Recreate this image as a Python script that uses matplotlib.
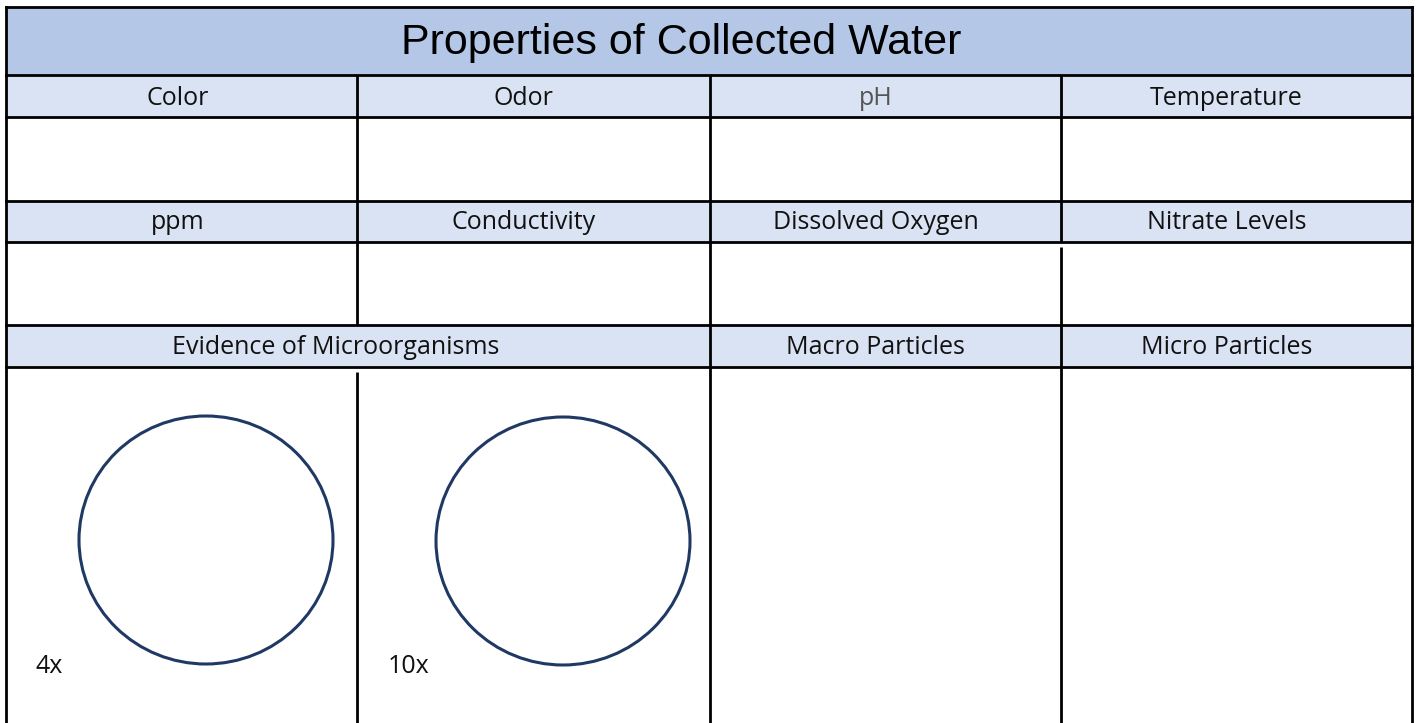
import matplotlib
matplotlib.use("Agg")
import matplotlib.pyplot as plt
from matplotlib.patches import Rectangle, Ellipse

# ---- content ----
title = "Properties of Collected Water"
row1_headers = ["Color", "Odor", "pH", "Temperature"]
row2_headers = ["ppm", "Conductivity", "Dissolved Oxygen", "Nitrate Levels"]
row3_headers = ["Evidence of Microorganisms", "Macro Particles", "Micro Particles"]
row3_spans = [(0, 2), (2, 3), (3, 4)]
magnifications = ["4x", "10x"]

# ---- layout (pixel grid) ----
W, H = 1416, 723
col_x = [6, 357, 710, 1061, 1412]
title_y = (7, 75)
hdr_rows = [(75, 117), (201, 242), (325, 367)]
body_rows = [(117, 201), (242, 325), (367, 723)]
hdr_baselines = [105, 229, 354]
col_shift = [-4, -10, -10, -10]   # text sits slightly left of cell centre

title_fill = "#B4C7E7"
hdr_fill = "#DAE3F3"
line_c = "black"
lw = 2.0
circle_c = "#1F3864"

fig = plt.figure(figsize=(W / 100, H / 100), dpi=100)
ax = fig.add_axes([0, 0, 1, 1])
ax.set_xlim(0, W)
ax.set_ylim(H, 0)
ax.axis("off")

# fills
ax.add_patch(Rectangle((col_x[0], title_y[0]), col_x[-1] - col_x[0],
                       title_y[1] - title_y[0], facecolor=title_fill, edgecolor="none"))
for (y0, y1) in hdr_rows:
    ax.add_patch(Rectangle((col_x[0], y0), col_x[-1] - col_x[0], y1 - y0,
                           facecolor=hdr_fill, edgecolor="none"))

# horizontal lines
for y in [title_y[0], title_y[1]] + [r[1] for r in hdr_rows] + [r[0] for r in hdr_rows[1:]]:
    ax.plot([col_x[0], col_x[-1]], [y, y], color=line_c, lw=lw, solid_capstyle="projecting")

# outer vertical lines
for x in (col_x[0], col_x[-1]):
    ax.plot([x, x], [title_y[0], H], color=line_c, lw=lw, solid_capstyle="projecting")

# inner vertical lines for first two header/body pairs
for (y0, y1) in hdr_rows[:2] + body_rows[:2]:
    for x in col_x[1:-1]:
        ys = y0
        if (y0, y1) == body_rows[1] and x == col_x[3]:
            ys = y0 + 5
        ax.plot([x, x], [ys, y1], color=line_c, lw=lw, solid_capstyle="butt")
# row 3 header: only lines between spans
for (a, b) in row3_spans[1:]:
    x = col_x[a]
    ax.plot([x, x], [hdr_rows[2][0], hdr_rows[2][1]], color=line_c, lw=lw)
# big body row: all inner columns
for x in col_x[1:-1]:
    y_start = body_rows[2][0] + (5 if x == col_x[1] else 0)
    ax.plot([x, x], [y_start, H], color=line_c, lw=lw, solid_capstyle="butt")

font = ["Open Sans", "DejaVu Sans"]
hsize = 18
ax.text(681, 54, title, ha="center", va="baseline",
        fontsize=31, family=["Liberation Sans", "DejaVu Sans"], color="black")

for i, t in enumerate(row1_headers):
    ax.text((col_x[i] + col_x[i + 1]) / 2 + col_shift[i], hdr_baselines[0], t,
            ha="center", va="baseline", fontsize=hsize, family=font,
            color="#555555" if t == "pH" else "#111111")
for i, t in enumerate(row2_headers):
    ax.text((col_x[i] + col_x[i + 1]) / 2 + col_shift[i], hdr_baselines[1], t,
            ha="center", va="baseline", fontsize=hsize, family=font, color="#111111")
for t, (a, b) in zip(row3_headers, row3_spans):
    shift = -22 if b - a > 1 else col_shift[a]
    ax.text((col_x[a] + col_x[b]) / 2 + shift, hdr_baselines[2], t,
            ha="center", va="baseline", fontsize=hsize, family=font, color="#111111")

# microscope view circles
circle_centers = [(206, 540), (563, 541)]
for (cx, cy) in circle_centers:
    ax.add_patch(Ellipse((cx, cy), 254, 248, facecolor="white",
                         edgecolor=circle_c, lw=2.2))

mag_x = [36, 388]
for t, x in zip(magnifications, mag_x):
    ax.text(x, 673, t, ha="left", va="baseline", fontsize=hsize, family=font, color="#111111")

fig.savefig("out.png", dpi=100)
